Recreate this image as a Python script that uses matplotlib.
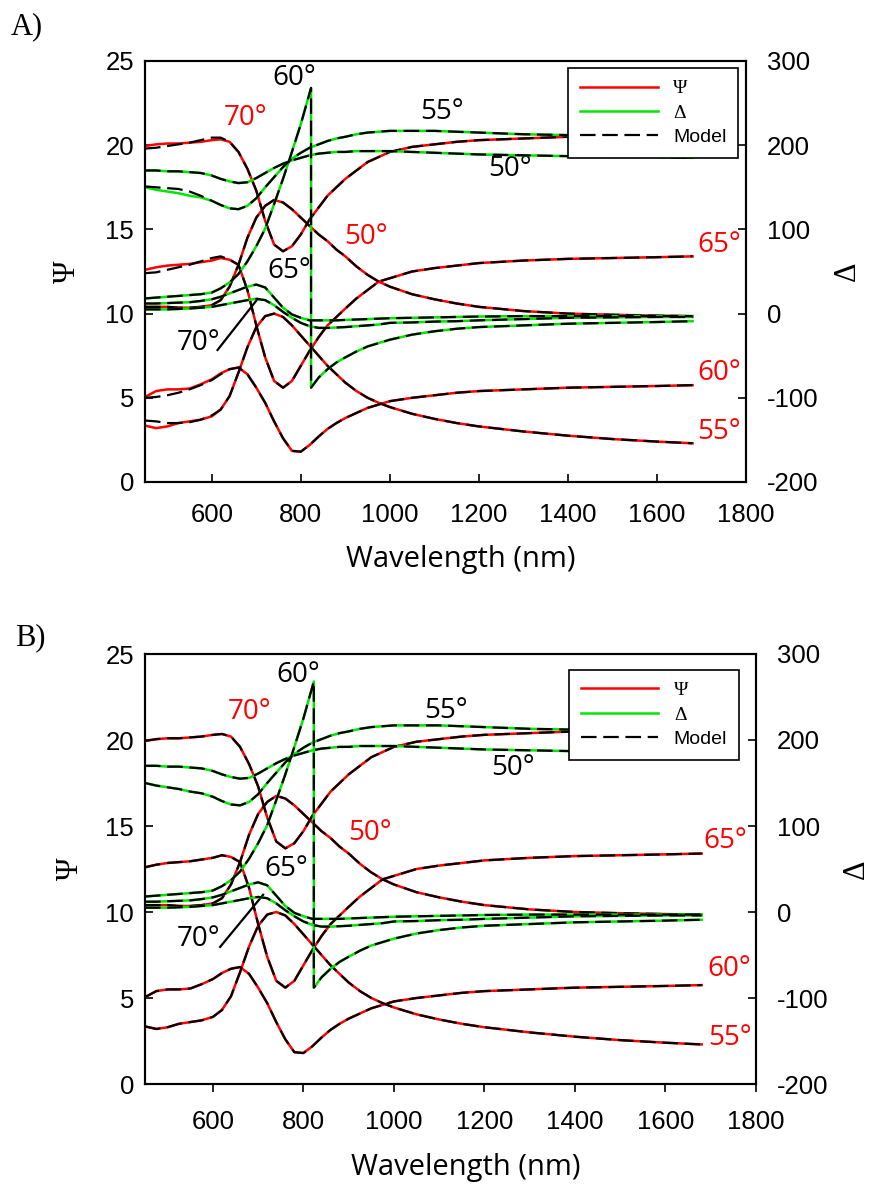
import matplotlib
matplotlib.use('Agg')
import matplotlib.pyplot as plt
from matplotlib.lines import Line2D

# wavelength grid (nm)
wl = [450, 475, 500, 525, 550, 575, 600, 620, 640, 660, 680, 700, 720, 740, 760,
      780, 800, 820, 840, 860, 880, 900, 925, 950, 975, 1000, 1050, 1100, 1150,
      1200, 1300, 1400, 1500, 1600, 1680]

# measured Psi (deg) for each angle of incidence
psi_70 = [19.95, 20.05, 20.1, 20.1, 20.15, 20.2, 20.3, 20.35, 20.2, 19.6, 18.6, 17.3,
          15.5, 14.1, 13.7, 14.0, 14.7, 15.6, 16.3, 17.0, 17.5, 18.0, 18.5, 19.0,
          19.3, 19.6, 19.9, 20.05, 20.2, 20.3, 20.4, 20.5, 20.5, 20.5, 20.5]
psi_65 = [12.6, 12.75, 12.85, 12.9, 12.95, 13.05, 13.15, 13.3, 13.2, 12.9, 11.4, 9.3,
          7.4, 6.0, 5.6, 6.0, 6.9, 7.8, 8.6, 9.3, 9.8, 10.3, 10.9, 11.4, 11.9, 12.1,
          12.5, 12.7, 12.85, 13.0, 13.15, 13.25, 13.3, 13.35, 13.4]
psi_60 = [5.05, 5.4, 5.5, 5.5, 5.55, 5.8, 6.1, 6.45, 6.7, 6.8, 6.4, 5.6, 4.7, 3.6,
          2.6, 1.85, 1.8, 2.2, 2.7, 3.15, 3.5, 3.8, 4.1, 4.4, 4.6, 4.8, 5.0, 5.15,
          5.3, 5.4, 5.5, 5.6, 5.65, 5.7, 5.75]
psi_55 = [3.35, 3.2, 3.3, 3.5, 3.6, 3.7, 3.9, 4.3, 5.1, 6.5, 8.0, 9.2, 9.85, 10.0,
          9.8, 9.3, 8.7, 8.1, 7.5, 6.9, 6.4, 5.9, 5.4, 5.0, 4.7, 4.45, 4.05, 3.75,
          3.5, 3.3, 3.0, 2.75, 2.55, 2.4, 2.3]
psi_50 = [10.4, 10.4, 10.4, 10.35, 10.35, 10.4, 10.5, 10.8, 11.6, 12.9, 14.5, 15.7,
          16.4, 16.75, 16.6, 16.2, 15.7, 15.2, 14.7, 14.3, 13.8, 13.4, 12.8, 12.3,
          11.9, 11.6, 11.15, 10.85, 10.6, 10.4, 10.15, 10.0, 9.93, 9.88, 9.85]

# measured Delta (deg)
delta_70 = [5, 5, 5, 5.5, 6, 7, 8, 10, 12, 14, 16, 17.5, 16, 10, 2, -5, -11, -15,
            -17, -17, -16.5, -16, -15, -14, -13, -11, -10.5, -9.5, -9, -8, -6.5,
            -5, -4.5, -4, -4]
delta_65 = [12, 12, 12.5, 13, 13.5, 15, 17, 20, 24, 28, 32, 34.5, 31, 19, 7, -1,
            -5, -8, -8, -8, -8, -7.5, -7, -6.5, -6, -5.5, -5, -4.5, -4, -3.5, -3,
            -3, -3, -3, -3]
delta_55 = [150, 147, 145, 143, 140, 138, 134, 129, 125, 124, 128, 137, 150, 162,
            174, 184, 191, 197, 201, 205, 208, 210, 213, 215, 216, 217, 217, 217,
            216, 215, 213, 212, 211, 210, 210]
delta_50 = [170, 170, 169, 169, 168, 167, 164, 160, 157, 155, 156, 161, 167, 173,
            178, 182, 185, 188, 190, 191, 192, 192, 193, 193, 193, 193, 192, 191,
            190, 189, 188, 187, 186, 186, 185]
# 60 deg Delta wraps around at ~823 nm
wl_d60 = [450, 475, 500, 525, 550, 575, 600, 620, 640, 660, 680, 700, 720, 740, 760,
          780, 800, 823, 823, 840, 860, 880, 900, 925, 950, 975, 1000, 1050, 1100,
          1150, 1200, 1300, 1400, 1500, 1600, 1680]
delta_60 = [18, 19, 20, 21, 22, 23, 25, 30, 37, 47, 62, 80, 101, 130, 160, 192, 225,
            268, -88, -76, -66, -58, -52, -45, -39, -35, -31, -25, -21, -18, -16,
            -14, -12, -11, -10, -9]

# model of panel A deviates at short wavelengths (450-620 nm)
model_a_psi_70 = [19.8, 19.85, 19.95, 20.05, 20.15, 20.3, 20.45, 20.45]
model_a_psi_65 = [12.4, 12.45, 12.6, 12.75, 12.9, 13.1, 13.3, 13.4]
model_a_psi_60 = [5.0, 5.05, 5.15, 5.3, 5.5, 5.75, 6.05, 6.4]
model_a_psi_55 = [3.65, 3.6, 3.5, 3.5, 3.55, 3.7, 3.95, 4.3]
model_a_delta_55 = [151, 150, 149, 148, 145, 140, 134, 129]

RED = '#ff0000'
GREEN = '#00e600'

psi_meas = [psi_70, psi_65, psi_60, psi_55, psi_50]
delta_meas = [delta_70, delta_65, delta_55, delta_50]
n = len(model_a_psi_70)
psi_model_a = [model_a_psi_70 + psi_70[n:], model_a_psi_65 + psi_65[n:],
               model_a_psi_60 + psi_60[n:], model_a_psi_55 + psi_55[n:], psi_50]
delta_model_a = [delta_70, delta_65, model_a_delta_55 + delta_55[n:], delta_50]

# angle labels: (text, wavelength, psi, color)
labels_a = [('70°', 676, 21.6, RED), ('60°', 786, 24.0, 'black'),
            ('55°', 1117, 22.0, 'black'), ('50°', 1270, 18.6, 'black'),
            ('50°', 946, 14.55, RED), ('65°', 775, 12.5, 'black'),
            ('70°', 571, 8.25, 'black'), ('65°', 1739, 14.1, RED),
            ('60°', 1739, 6.5, RED), ('55°', 1739, 2.95, RED)]
labels_b = [('70°', 680, 21.6, RED), ('60°', 789, 23.8, 'black'),
            ('55°', 1116, 21.7, 'black'), ('50°', 1264, 18.4, 'black'),
            ('50°', 947, 14.6, RED), ('65°', 761, 12.5, 'black'),
            ('70°', 569, 8.43, 'black'), ('65°', 1731, 14.1, RED),
            ('60°', 1742, 6.7, RED), ('55°', 1742, 2.7, RED)]
leader_a = ([613, 703], [7.84, 10.87])
leader_b = ([616, 711], [7.97, 11.0])

plt.rcParams['font.family'] = ['Liberation Sans', 'DejaVu Sans']
plt.rcParams['axes.linewidth'] = 1.5
plt.rcParams['axes.unicode_minus'] = False

fig = plt.figure(figsize=(8.71, 11.84), dpi=100)
W, H = 871.0, 1184.0


def panel(rect, psi_model, delta_model, labels, leader, xdir, xpad, lab_y, psi_x, delta_x, leg_anchor):
    ax = fig.add_axes(rect)
    ax2 = ax.twinx()
    # measured first, model dashed on top
    for p in psi_meas:
        ax.plot(wl, p, color=RED, lw=1.8)
    for p in psi_model:
        ax.plot(wl, p, color='black', lw=1.6, dashes=(7, 3))
    for d in delta_meas:
        ax2.plot(wl, d, color=GREEN, lw=1.8)
    ax2.plot(wl_d60, delta_60, color=GREEN, lw=1.8)
    for d in delta_model:
        ax2.plot(wl, d, color='black', lw=1.6, dashes=(7, 3))
    ax2.plot(wl_d60, delta_60, color='black', lw=1.6, dashes=(7, 3))

    ax.set_xlim(450, 1800)
    ax.set_ylim(0, 25)
    ax2.set_ylim(-200, 300)
    ax.set_xticks(range(600, 1801, 200))
    ax.set_yticks(range(0, 26, 5))
    ax2.set_yticks(range(-200, 301, 100))
    ax.tick_params(axis='y', direction='in', length=6, width=1.2, labelsize=18.5, pad=8)
    ax.tick_params(axis='x', direction=xdir, length=6, width=1.2, labelsize=18.5, pad=xpad)
    ax2.tick_params(axis='y', direction='in', length=6, width=1.2, labelsize=18.5, pad=15)

    for t, x, y, c in labels:
        ax.text(x, y, t, color=c, fontsize=20, family=['Open Sans', 'DejaVu Sans'],
                ha='center', va='center', zorder=5)
    ax.plot(leader[0], leader[1], color='black', lw=1.6)

    ax.set_xlabel('Wavelength (nm)', fontsize=21, family=['Open Sans', 'DejaVu Sans'])
    ax.xaxis.set_label_coords(0.525, lab_y)
    ax.set_ylabel('Ψ', fontsize=22, family='Liberation Serif')
    ax.yaxis.set_label_coords(psi_x, 0.5)
    ax2.set_ylabel('Δ', fontsize=22, family='Liberation Serif', rotation=90)
    ax2.yaxis.set_label_coords(delta_x, 0.5)

    handles = [Line2D([], [], color=RED, lw=1.8),
               Line2D([], [], color=GREEN, lw=1.8),
               Line2D([], [], color='black', lw=1.6, dashes=(7, 3))]
    leg = ax2.legend(handles, ['Ψ', 'Δ', 'Model'], loc='upper right',
                     bbox_to_anchor=leg_anchor, borderaxespad=0, fancybox=False,
                     framealpha=1, edgecolor='black', prop={'size': 14},
                     handlelength=4.0, handletextpad=0.8, labelspacing=0.35,
                     borderpad=0.6)
    leg.get_frame().set_linewidth(1.2)
    for txt in leg.get_texts()[:2]:
        txt.set_fontfamily('Liberation Serif')
        txt.set_fontsize(14)
    return ax


panel([145 / W, 1 - 482 / H, 601 / W, 421 / H], psi_model_a, delta_model_a,
      labels_a, leader_a, 'in', 15, -0.15, -0.105, 1.145, (0.987, 0.983))
panel([145 / W, 1 - 1084 / H, 611 / W, 430 / H], psi_meas, delta_meas,
      labels_b, leader_b, 'out', 13, -0.16, -0.098, 1.14, (0.972, 0.963))

fig.text(27 / W, 1 - 27 / H, 'A)', fontsize=22, family='Liberation Serif',
         ha='center', va='center')
fig.text(30 / W, 1 - 638 / H, 'B)', fontsize=22, family='Liberation Serif',
         ha='center', va='center')

fig.savefig('out.png', dpi=100, facecolor='white')
